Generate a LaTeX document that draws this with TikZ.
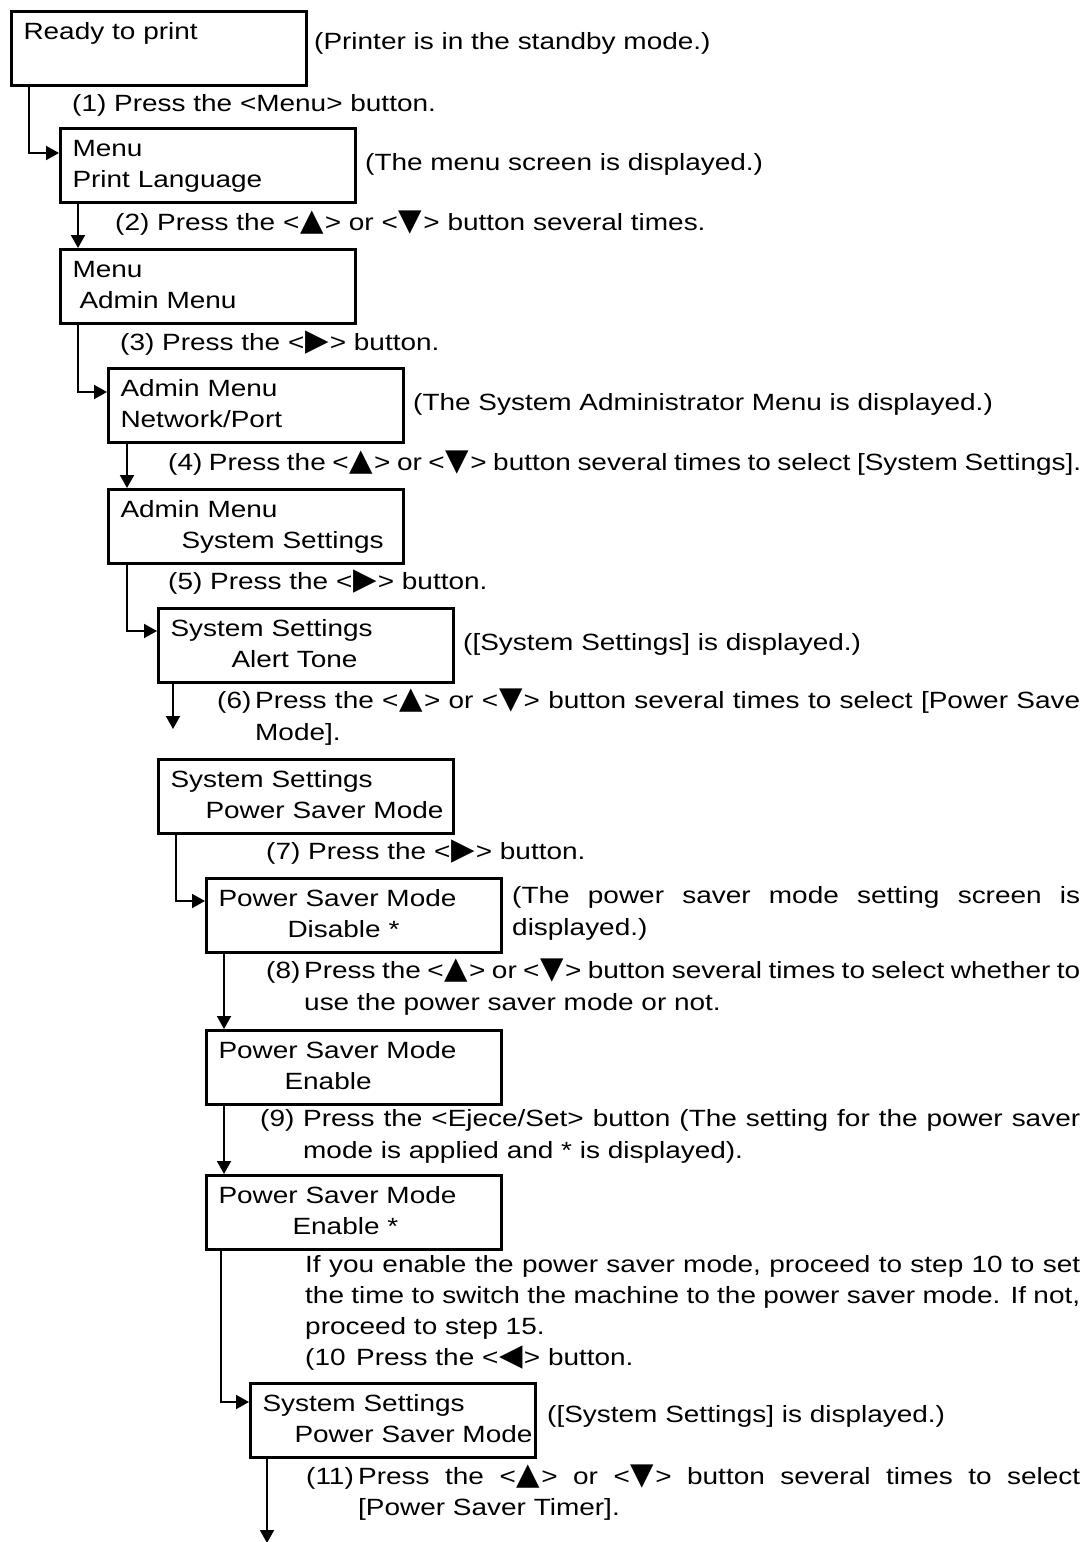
\documentclass[tikz,border=0pt]{standalone}
\usepackage{fontspec}
\setmainfont{Liberation Sans}[FakeStretch=1.19]
\newfontfamily\symbfont{DejaVu Sans}[Scale=1.3]
\usetikzlibrary{arrows.meta}
\newcommand{\keyup}{\kern1pt{\symbfont ▲}\kern1pt}
\newcommand{\keydown}{\kern1pt{\symbfont ▼}\kern1pt}
\newcommand{\keyright}{\kern1pt{\symbfont ▶}\kern1pt}
\newcommand{\keyleft}{\kern1pt{\symbfont ◀}\kern1pt}

\begin{document}
\begin{tikzpicture}[x=1pt, y=-1pt,
	every node/.style={font=\fontsize{23.5}{31.5}\selectfont},
	screen/.style={draw, line width=3pt, anchor=north west, minimum height=74pt,
		inner xsep=12pt, inner ysep=0pt, text width=#1, align=left,
		execute at begin node=\strut, execute at end node=\strut},
	screen/.default=271pt,
	note/.style={anchor=base west, inner sep=0pt},
	flow/.style={line width=2pt, -{Triangle[length=13pt, width=14pt]}}
	]
	\useasboundingbox (0,0) rectangle (1091,1542);
	% panel screens
	\node[screen] (ready) at (10,10) {Ready to print\\};
	\node[screen] (menu1) at (59,127) {Menu\\Print Language};
	\node[screen] (menu2) at (59,248) {Menu\\\hspace*{7pt}Admin Menu};
	\node[screen] (adminport) at (107,367) {Admin Menu\\Network/Port};
	\node[screen] (adminsys) at (107,488) {Admin Menu\\\hspace*{61pt}System Settings};
	\node[screen] (sysalert) at (157,607) {System Settings\\\hspace*{61pt}Alert Tone};
	\node[screen] (syspower) at (157,758) {System Settings\\\hspace*{35pt}\mbox{Power Saver Mode}};
	\node[screen] (psdisable) at (205,877) {Power Saver Mode\\\hspace*{69pt}Disable *};
	\node[screen] (psenable) at (205,1029) {Power Saver Mode\\\hspace*{66pt}Enable};
	\node[screen] (psset) at (205,1174) {Power Saver Mode\\\hspace*{74pt}Enable *};
	\node[screen=261pt] (syspower2) at (249,1382) {System Settings\\\hspace*{32pt}\mbox{Power Saver Mode}};
	% steps and remarks
	\node[note] (standby) at (314,49) {(Printer is in the standby mode.)};
	\node[note] (step1) at (72,111) {(1) Press the <Menu> button.};
	\node[note] (menushown) at (365,170) {(The menu screen is displayed.)};
	\node[note] (step2) at (115,230) {(2) Press the <\keyup> or <\keydown> button several times.};
	\node[note] (step3) at (120,350) {(3) Press the <\keyright> button.};
	\node[note] (adminshown) at (413,410) {(The System Administrator Menu is displayed.)};
	\node[note] (step4) at (168,470) {\makebox[913pt][s]{(4) Press the <\keyup> or <\keydown> button several times to select [System Settings].}};
	\node[note] (step5) at (168,589) {(5) Press the <\keyright> button.};
	\node[note] (sysshown) at (463,650) {([System Settings] is displayed.)};
	\node[note] (step6no) at (217,708) {(6)};
	\node[note] (step6) at (255,708) {\makebox[825pt][s]{Press the <\keyup> or <\keydown> button several times to select [Power Save}};
	\node[note] (step6b) at (255,740) {Mode].};
	\node[note] (step7) at (266,859) {(7) Press the <\keyright> button.};
	\node[note] (psshown) at (512,903) {\makebox[568pt][s]{(The power saver mode setting screen is}};
	\node[note] (psshownb) at (512,935) {displayed.)};
	\node[note] (step8no) at (266,978) {(8)};
	\node[note] (step8) at (304,978) {\makebox[776pt][s]{Press the <\keyup> or <\keydown> button several times to select whether to}};
	\node[note] (step8b) at (304,1010) {use the power saver mode or not.};
	\node[note] (step9no) at (260,1126) {(9)};
	\node[note] (step9) at (303,1126) {\makebox[777pt][s]{Press the <Ejece/Set> button (The setting for the power saver}};
	\node[note] (step9b) at (303,1158) {mode is applied and * is displayed).};
	\node[note] (ifenable) at (305,1272) {\makebox[775pt][s]{If you enable the power saver mode, proceed to step 10 to set}};
	\node[note] (ifenableb) at (305,1303) {\makebox[775pt][s]{the time to switch the machine to the power saver mode. If not,}};
	\node[note] (ifenablec) at (305,1334) {proceed to step 15.};
	\node[note] (step10no) at (305,1365) {(10};
	\node[note] (step10) at (356,1365) {Press the <\keyleft> button.};
	\node[note] (sysshown2) at (547,1422) {([System Settings] is displayed.)};
	\node[note] (step11no) at (306,1484) {(11)};
	\node[note] (step11) at (358,1484) {\makebox[722pt][s]{Press the <\keyup> or <\keydown> button several times to select}};
	\node[note] (step11b) at (358,1515) {[Power Saver Timer].};
	% free ends
	\coordinate (gap6) at ([xshift=16pt,yshift=-45pt]sysalert.south west);
	\coordinate (more) at ([xshift=18pt,yshift=-84pt]syspower2.south west);
	% connectors
	\draw[flow] ([xshift=19pt]ready.south west) |- ([yshift=-26pt]menu1.north west);
	\draw[flow] ([xshift=19pt]menu1.south west) -- ([xshift=19pt]menu2.north west);
	\draw[flow] ([xshift=19pt]menu2.south west) |- ([yshift=-25pt]adminport.north west);
	\draw[flow] ([xshift=20pt]adminport.south west) -- ([xshift=20pt]adminsys.north west);
	\draw[flow] ([xshift=20pt]adminsys.south west) |- ([yshift=-24pt]sysalert.north west);
	\draw[flow] ([xshift=16pt]sysalert.south west) -- (gap6);
	\draw[flow] ([xshift=19pt]syspower.south west) |- ([yshift=-24pt]psdisable.north west);
	\draw[flow] ([xshift=19pt]psdisable.south west) -- ([xshift=19pt]psenable.north west);
	\draw[flow] ([xshift=19pt]psenable.south west) -- ([xshift=19pt]psset.north west);
	\draw[flow] ([xshift=16pt]psset.south west) |- ([yshift=-20pt]syspower2.north west);
	\draw[flow] ([xshift=18pt]syspower2.south west) -- (more);
\end{tikzpicture}
\end{document}
